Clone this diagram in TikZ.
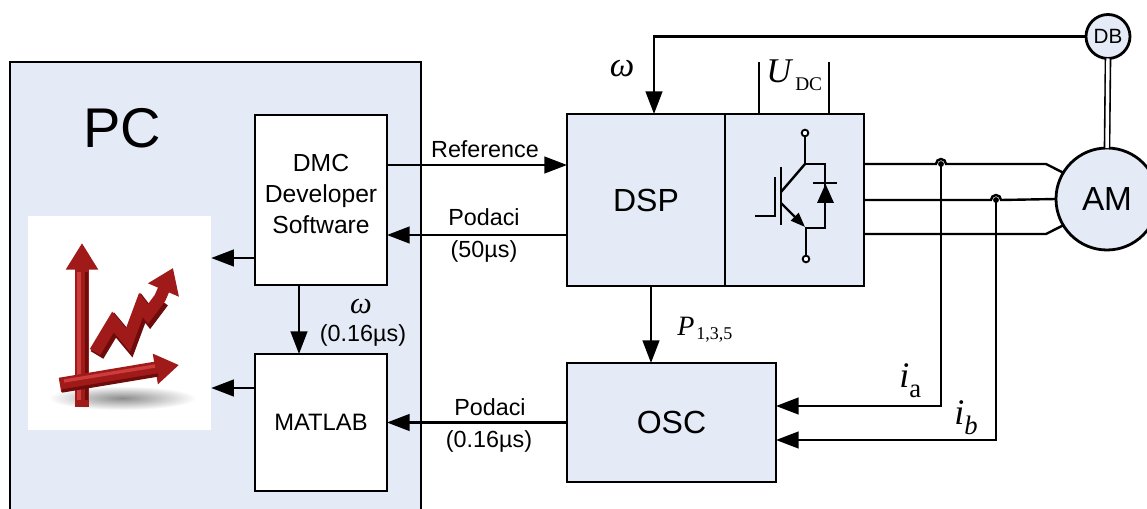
\documentclass[tikz,border=0pt]{standalone}
\usepackage{fontspec}
\setmainfont{Liberation Sans}
\newfontfamily\tms{Liberation Serif}
\usetikzlibrary{arrows.meta,calc}
\definecolor{panel}{RGB}{228,235,246}
\definecolor{chartred}{RGB}{160,26,26}
\definecolor{chartdark}{RGB}{110,12,12}
\definecolor{chartlight}{RGB}{205,60,60}
\begin{document}
\begin{tikzpicture}[x=0.75pt,y=-0.75pt,
  blk/.style={draw=black, line width=2.1pt, fill=panel, inner sep=0pt, outer sep=0pt},
  wblk/.style={blk, fill=white},
  wire/.style={line width=1.8pt},
  arr/.style={wire, -{Triangle[length=17pt,width=12.5pt]}},
  lbl/.style={inner sep=0pt, font=\fontsize{17.5}{21}\selectfont},
  sym/.style={inner sep=0pt, anchor=base west},
  term/.style={draw=black, line width=1.4pt, fill=white},
  redarrow/.style={line width=#1, color=chartred, line join=miter, miter limit=3},
]
\useasboundingbox (0,0) rectangle (1147,509);

% ---------- PC panel ----------
\node[blk, minimum width=308.25pt, minimum height=345pt] (pc) at (215.5,292) {};
\node[inner sep=0pt, font=\fontsize{42}{46}\selectfont] (pctext) at (122,128) {PC};

% chart picture
\node[fill=white, inner sep=0pt, minimum width=137.25pt, minimum height=160.5pt] (icon) at (119.5,323) {};
\begin{scope}
  \shade[inner color=black!45, outer color=white] (122,398) ellipse (74 and 12);
  % vertical axis
  \draw[redarrow=11pt, -{Triangle[length=20pt,width=23pt]}] (82,407) -- (82,243);
  \draw[color=chartlight, line width=3pt] (79,400) -- (79,272);
  \draw[color=chartdark, line width=2.5pt] (86.5,400) -- (86.5,272);
  % rising curve
  \draw[color=chartdark, line width=11pt, line join=miter, miter limit=3] (97,355) -- (115,325) -- (130,343) -- (143,308) -- (150,317) -- (162,301);
  \draw[redarrow=9pt, -{Triangle[length=18pt,width=24pt]}] (95,352) -- (113,322) -- (128,340) -- (141,305) -- (148,314) -- (160,298) -- (173,268);
  % horizontal axis
  \draw[redarrow=11pt, -{Triangle[length=18pt,width=22pt]}] (60,385) -- (179,365);
  \draw[color=chartdark, line width=2.5pt] (62,391) -- (158,375);
  \draw[color=chartlight, line width=2.5pt] (64,381) -- (155,366);
\end{scope}

% software blocks
\node[wblk, minimum width=99pt, minimum height=127.5pt] (dmc) at (321,200) {};
\node[align=center, inner sep=0pt, font=\fontsize{18.5}{23.6}\selectfont] (dmctext) at (321,194) {DMC\\Developer\\Software};
\node[wblk, minimum width=99pt, minimum height=102.75pt, font=\fontsize{17.8}{21}\selectfont] (matlab) at (321,422.5) {MATLAB};

% ---------- hardware ----------
\node[blk, minimum width=118.5pt, minimum height=129pt, font=\fontsize{24}{28}\selectfont] (dsp) at (646,200) {DSP};
\node[blk, minimum width=104.25pt, minimum height=129pt] (inv) at (794.5,200) {};
\node[blk, minimum width=156.75pt, minimum height=89.25pt, font=\fontsize{24}{28}\selectfont] (osc) at (671.5,422.5) {OSC};
\node[blk, circle, minimum size=33pt, font=\fontsize{15.5}{18}\selectfont] (db) at (1108,36.5) {DB};
\node[blk, circle, minimum size=76.5pt, font=\fontsize{25}{28}\selectfont] (am) at (1107,199) {AM};

% IGBT with antiparallel diode
\draw[wire] (805,136) -- (805,164) -- (825,164) -- (825,228) -- (806,228) -- (806,256);
\draw[wire] (781,192) -- (805,164);
\draw[wire, -{Triangle[length=11pt,width=8pt]}] (781,203) -- (805,227);
\draw[line width=2pt] (781,167) -- (781,225);
\draw[wire] (755,216) -- (775,216) -- (775,177);
\draw[wire] (813,183) -- (837,183);
\fill (817,203) -- (834,203) -- (825.5,184) -- cycle;
\draw[term] (805,133) circle[radius=2.5pt];
\draw[term] (806,259) circle[radius=2.5pt];

% DC link
\draw[wire] (inv.north -| 759,0) -- (759,62);
\draw[wire] (inv.north -| 829,0) -- (829,62);
\node[sym, font=\tms\itshape\fontsize{26}{29}\selectfont] (udc) at (766,83) {U};
\node[sym, font=\tms\fontsize{14.5}{17}\selectfont] (udcsub) at (795,91) {DC};

% helper levels
\coordinate (yref) at (0,165);
\coordinate (ypod) at (0,235);
\coordinate (yic1) at (0,258);
\coordinate (yic2) at (0,388);
\coordinate (xom) at (299,0);
\coordinate (xp) at (651,0);
\coordinate (xfb) at (654,0);
\coordinate (ph1) at (0,164);
\coordinate (ph2) at (0,200);
\coordinate (ph3) at (0,234);
\coordinate (ja) at (941,164);
\coordinate (jb) at (996,200);
\coordinate (bend1) at (1046,164);
\coordinate (bend3) at (1046,234);
\coordinate (yia) at (0,406);
\coordinate (yib) at (0,440);

% data links
\draw[arr] (dmc.east |- yref) -- (dsp.west |- yref);
\node[lbl] (reflbl) at (485,149) {Reference};
\draw[arr] (dsp.west |- ypod) -- (dmc.east |- ypod);
\node[lbl] (podlbl) at (484,217) {Podaci};
\node[lbl] (podt) at (484,251) {(50µs)};
\draw[arr] (dmc.west |- yic1) -- (icon.east |- yic1);
\draw[arr] (matlab.west |- yic2) -- (icon.east |- yic2);
\draw[arr] (dmc.south -| xom) -- (matlab.north -| xom);
\node[inner sep=0pt, font=\tms\itshape\fontsize{23}{25}\selectfont] (omlbl) at (361,306) {ω};
\node[lbl] (omt) at (363,335) {(0.16µs)};
\draw[arr] (osc.west) -- (matlab.east);
\node[lbl] (podlbl2) at (490,407) {Podaci};
\node[lbl] (podt2) at (489,441) {(0.16µs)};

% pulses to scope
\draw[arr] (dsp.south -| xp) -- (osc.north -| xp);
\node[sym, font=\tms\itshape\fontsize{21}{24}\selectfont] (plbl) at (677,336) {P};
\node[sym, font=\tms\fontsize{13.5}{15}\selectfont] (psub) at (696,340) {1,3,5};

% speed feedback
\draw[arr] (db.west) -| (dsp.north -| xfb);
\node[inner sep=0pt, font=\tms\itshape\fontsize{26}{28}\selectfont] (omfb) at (622,69) {ω};
\draw[line width=1.2pt, double=white, double distance=2.6pt] (db.south) -- (am.north);

% three phase output with current taps
\draw[wire] (inv.east |- ph1) -- ($(ja)+(-5,0)$) arc[start angle=180, end angle=0, radius=3.75pt] -- (bend1) -- (am.149);
\draw[wire] (inv.east |- ph2) -- ($(jb)+(-5,0)$) arc[start angle=180, end angle=0, radius=3.75pt] -- (am.west);
\draw[wire] (inv.east |- ph3) -- (bend3) -- (am.211);
\fill (ja) circle[radius=2.2pt];
\fill (jb) circle[radius=2.2pt];
\draw[arr] (ja) |- (osc.east |- yia);
\draw[arr] (jb) |- (osc.east |- yib);
\node[sym, font=\tms\itshape\fontsize{27}{30}\selectfont] (ialbl) at (899,388) {i};
\node[sym, font=\tms\fontsize{20}{22}\selectfont] (iasub) at (909,398) {a};
\node[sym, font=\tms\itshape\fontsize{27}{30}\selectfont] (iblbl) at (954,425) {i};
\node[sym, font=\tms\itshape\fontsize{20}{22}\selectfont] (ibsub) at (964,435) {b};
\end{tikzpicture}
\end{document}
